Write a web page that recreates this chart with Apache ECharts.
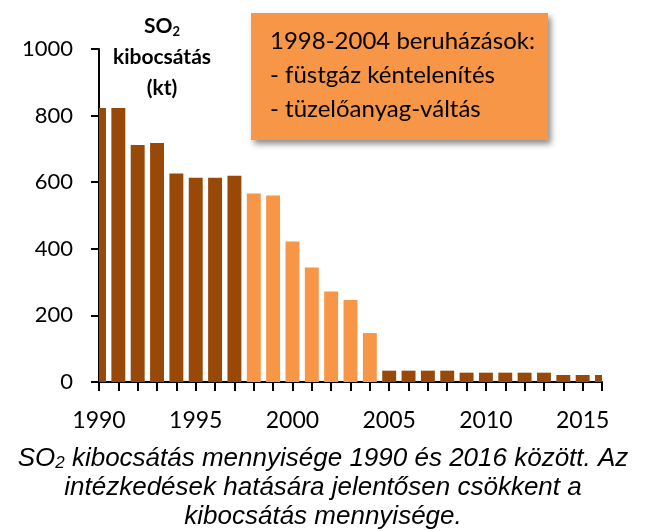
<!DOCTYPE html>
<html><head><meta charset="utf-8">
<script src="https://cdn.jsdelivr.net/npm/echarts@6/dist/echarts.min.js"></script>
<style>html,body{margin:0;padding:0;background:#fff}#c{width:647px;height:531px}</style>
</head><body><div id="c"></div>
<script>
const years = [1990,1991,1992,1993,1994,1995,1996,1997,1998,1999,2000,2001,2002,2003,2004,2005,2006,2007,2008,2009,2010,2011,2012,2013,2014,2015,2016];
const emissions = [823,823,712,718,626,613,613,619,566,560,422,344,272,246,147,34,34,34,34,28,28,28,28,28,21,21,21];
const investStart = 1998;
const investEnd = 2004;
const yMin = 0, yMax = 1000, yStep = 200;
const xLabelStep = 5;
const boxLines = ['1998-2004 beruházások:', '- füstgáz kéntelenítés', '- tüzelőanyag-váltás'];
const captionLines = ['{i|SO}{s|2}{i| kibocsátás mennyisége 1990 és 2016 között. Az}', '{i|intézkedések hatására jelentősen csökkent a}', '{i|kibocsátás mennyisége.}'];

const DARK = '#984807', LIGHT = '#F79646';
const FONT = 'Lato, sans-serif';
const chart = echarts.init(document.getElementById('c'), null, {renderer:'canvas'});
const data = years.map((y, i) => [y, emissions[i]]);

function renderBar(params, api) {
  const x = api.value(0), v = api.value(1);
  const p0 = api.coord([x, 0]);
  const p1 = api.coord([x, v]);
  const w = api.size([1, 0])[0] * 0.72;
  const cs = params.coordSys;
  const rect = echarts.graphic.clipRectByRect(
    {x: p0[0] - w / 2, y: p1[1], width: w, height: p0[1] - p1[1]},
    {x: cs.x, y: cs.y, width: cs.width, height: cs.height});
  if (!rect) return;
  return {type: 'rect', shape: rect,
    style: {fill: (x >= investStart && x <= investEnd) ? LIGHT : DARK}};
}

chart.setOption({
  animation: false,
  backgroundColor: '#fff',
  grid: {left: 99, right: 45, top: 49, bottom: 149},
  xAxis: {
    type: 'value', min: years[0], max: years[years.length-1], interval: 1,
    splitLine: {show: false},
    axisLine: {show: true, lineStyle: {color: '#000', width: 2}},
    axisTick: {show: true, length: 9, lineStyle: {color: '#000', width: 2}},
    axisLabel: {color: '#000', fontSize: 23, fontFamily: FONT, margin: 27,
      formatter: v => (v % xLabelStep === 0 ? String(v) : '')}
  },
  yAxis: {
    type: 'value', min: yMin, max: yMax, interval: yStep,
    splitLine: {show: false},
    axisLine: {show: true, lineStyle: {color: '#000', width: 2}},
    axisTick: {show: true, length: 8, lineStyle: {color: '#000', width: 2}},
    axisLabel: {color: '#000', fontSize: 22, fontFamily: FONT, margin: 26,
      formatter: v => String(v)}
  },
  series: [{
    type: 'custom', data: data, renderItem: renderBar, z: 1,
    encode: {x: 0, y: 1}
  }],
  graphic: [
    {type: 'rect', shape: {x: 251, y: 13, width: 297, height: 127},
     style: {fill: LIGHT, shadowBlur: 6, shadowOffsetX: 3, shadowOffsetY: 4, shadowColor: 'rgba(0,0,0,0.45)'}, z: 10},
    {type: 'text', x: 270, y: 24, z: 11,
     style: {text: boxLines.join('\n'), font: '24px ' + FONT, fill: '#000', lineHeight: 34}},
    {type: 'text', x: 162, y: 11, z: 11,
     style: {text: '{b|SO}{s|2}\n{b|kibocsátás}\n{b|(kt)}', align: 'center',
       rich: {b: {font: 'bold 21px ' + FONT, fill: '#000', lineHeight: 31},
              s: {font: 'bold 13px ' + FONT, fill: '#000', lineHeight: 31, padding: [10,0,0,0]}}}},
    {type: 'text', x: 323, y: 444, z: 11,
     style: {text: captionLines.join('\n'), align: 'center',
       rich: {i: {font: 'italic 26px "Liberation Sans", Arial, sans-serif', fill: '#000', lineHeight: 29, align: 'center'},
              s: {font: 'italic 17px "Liberation Sans", Arial, sans-serif', fill: '#000', lineHeight: 29, padding: [10,0,0,0]}}}}
  ]
});
</script></body></html>
